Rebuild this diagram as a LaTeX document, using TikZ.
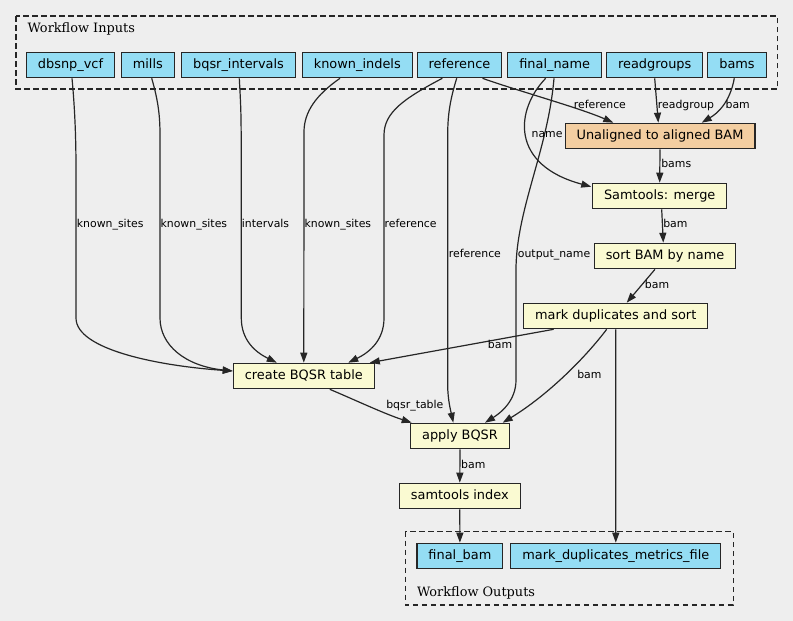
\documentclass[tikz,border=0pt]{standalone}
\usepackage{fontspec}
\setmainfont{DejaVu Sans}
\newfontfamily\clusterfont{DejaVu Serif}
\usetikzlibrary{arrows.meta,calc}
\definecolor{bgcol}{HTML}{EEEEEE}
\definecolor{iocol}{HTML}{94DDF4}
\definecolor{stepcol}{HTML}{FAFAD2}
\definecolor{subcol}{HTML}{F3CEA1}
\tikzset{every picture/.style={line width=1.2pt}}

\begin{document}
\begin{tikzpicture}[x=1pt,y=1pt,yscale=-1,
  iobox/.style={draw=black!85,fill=iocol,minimum height=25.4pt,inner xsep=11.5pt,inner ysep=0pt,text height=9.6pt,text depth=3pt,font=\fontsize{12.9}{14}\selectfont},
  stepbox/.style={iobox,fill=stepcol},
  subbox/.style={iobox,fill=subcol},
  flow/.style={draw=black!85,-{Triangle[length=10pt,width=7pt]}},
  edgelabel/.style={anchor=west,inner sep=0pt,text height=8pt,text depth=1pt,font=\fontsize{10.9}{12}\selectfont},
  cluster/.style={draw=black!85,line width=1.1pt,dash pattern=on 5.5pt off 3.5pt},
  clusterlabel/.style={anchor=base west,inner sep=0pt,font=\clusterfont\fontsize{12.9}{14}\selectfont}]
%set diagram size
\path[use as bounding box,fill=bgcol] (0,0) rectangle (793,621);

%Shape: Rectangle (inputs)
\draw[cluster] (16,16) rectangle (777.3,89);
\node[clusterlabel] (inlabel) at (27,32.3) {Workflow Inputs};
%Shape: Rectangle (outputs)
\draw[cluster] (405.2,531.7) rectangle (733.1,605);
\node[clusterlabel] (outlabel) at (416.4,596.2) {Workflow Outputs};

%Inputs
\node[iobox] (dbsnp) at (70.5,65) {dbsnp\_vcf};
\node[iobox] (mills) at (147.8,65) {mills};
\node[iobox] (bqsrint) at (238.5,65) {bqsr\_intervals};
\node[iobox] (knownindels) at (357.3,65) {known\_indels};
\node[iobox] (ref) at (459.5,65) {reference};
\node[iobox] (finalname) at (554.7,65) {final\_name};
\node[iobox] (readgroups) at (654.7,65) {readgroups};
\node[iobox] (bams) at (737,65) {bams};

%Steps
\node[subbox] (unaligned) at (660,136) {Unaligned to aligned BAM};
\node[stepbox] (merge) at (659.7,196) {Samtools: merge};
\node[stepbox] (sortbam) at (665,256) {sort BAM by name};
\node[stepbox] (markdup) at (615.7,316) {mark duplicates and sort};
\node[stepbox] (createbqsr) at (303.8,376) {create BQSR table};
\node[stepbox] (applybqsr) at (460,436) {apply BQSR};
\node[stepbox] (samindex) at (459.8,496) {samtools index};

%Outputs
\node[iobox] (finalbam) at (459.9,556) {final\_bam};
\node[iobox] (metrics) at (615.8,556) {mark\_duplicates\_metrics\_file};

%Curve Lines into create BQSR table
\draw[flow] ($(dbsnp.south)+(1.5,0)$) .. controls (75,110) and (76,140) .. (76,170) -- (76,318) .. controls (76,350) and (160,366) .. ($(createbqsr.west)+(0,-5)$);
\draw[flow] ($(mills.south)+(3.9,0)$) .. controls (158,100) and (160,115) .. (160,135) -- (160,318) .. controls (160,345) and (185,366) .. ($(createbqsr.west)+(0,-5)$);
\draw[flow] ($(bqsrint.south)+(0.8,0)$) .. controls (241,110) .. (241.3,150) -- (241.3,318) .. controls (241.3,340) and (255,352) .. ($(createbqsr.north)+(-27,0)$);
\draw[flow] ($(knownindels.south)+(-17.3,0)$) .. controls (316,95) and (304,112) .. (304,132) -- (createbqsr.north);
\draw[flow] ($(ref.south)+(-17.2,0)$) .. controls (405,98) and (384,112) .. (384,135) -- (384,318) .. controls (384,340) and (370,352) .. ($(createbqsr.north)+(44.5,0)$);
%Straight Lines
\draw[flow] ($(markdup.south)+(-62,0)$) -- ($(createbqsr.north)+(66,0)$);

%Curve Lines into apply BQSR
\draw[flow] ($(ref.south)+(-2.8,0)$) .. controls (450,100) and (447.7,115) .. (447.7,135) -- (447.7,385) .. controls (447.7,400) and (451,412) .. ($(applybqsr.north)+(-6.7,0)$);
\draw[flow] ($(finalname.south)+(-0.7,0)$) .. controls (548,150) and (516,210) .. (516,270) -- (516,380) .. controls (516,400) and (502,412) .. ($(applybqsr.north)+(25,0)$);
\draw[flow] ($(markdup.south)+(-9,0)$) .. controls (585,358) and (548,395) .. ($(applybqsr.north)+(42.7,0)$);
\draw[flow] ($(createbqsr.south)+(26,0)$) .. controls (355,400) and (385,414) .. ($(applybqsr.north)+(-48.3,0)$);

%Curve Lines into Unaligned to aligned BAM
\draw[flow] ($(ref.south)+(23,0)$) .. controls (515,90) and (580,108) .. ($(unaligned.north)+(-46.7,0)$);
\draw[flow] (readgroups.south) -- ($(unaligned.north)+(-1.7,0)$);
\draw[flow] ($(bams.south)+(-2.7,0)$) .. controls (730,102) and (718,113) .. ($(unaligned.north)+(41.7,0)$);
\draw[flow] ($(finalname.south)+(-9,0)$) .. controls (515,110) and (510,165) .. ($(merge.west)+(-0.7,-9.3)$);

%Straight Lines down the chain
\draw[flow] (unaligned.south) -- (merge.north);
\draw[flow] ($(merge.south)+(2,0)$) -- ($(sortbam.north)+(-1.7,0)$);
\draw[flow] ($(sortbam.south)+(-10,0)$) -- ($(markdup.north)+(11,0)$);
\draw[flow] (markdup.south) -- (metrics.north);
\draw[flow] (applybqsr.south) -- (samindex.north);
\draw[flow] (samindex.south) -- (finalbam.north);

%Edge labels
\node[edgelabel] (lsites1) at (76.3,224.3) {known\_sites};
\node[edgelabel] (lsites2) at (160,224.3) {known\_sites};
\node[edgelabel] (lintervals) at (241.3,224.3) {intervals};
\node[edgelabel] (lsites3) at (304,224.3) {known\_sites};
\node[edgelabel] (lref1) at (384,224.3) {reference};
\node[edgelabel] (lref2) at (448.3,254.3) {reference};
\node[edgelabel] (loutname) at (517.3,254.3) {output\_name};
\node[edgelabel] (lname) at (531,134.3) {name};
\node[edgelabel] (lref3) at (573.3,105) {reference};
\node[edgelabel] (lreadgroup) at (657.3,105) {readgroup};
\node[edgelabel] (lbam1) at (725,105) {bam};
\node[edgelabel] (lbams) at (660.7,164.3) {bams};
\node[edgelabel] (lbam2) at (662.7,224.3) {bam};
\node[edgelabel] (lbam3) at (644.3,285) {bam};
\node[edgelabel] (lbam4) at (487.3,345) {bam};
\node[edgelabel] (lbam5) at (576.7,375) {bam};
\node[edgelabel] (ltable) at (385.7,405) {bqsr\_table};
\node[edgelabel] (lbam6) at (460.6,465) {bam};

\end{tikzpicture}
\end{document}
